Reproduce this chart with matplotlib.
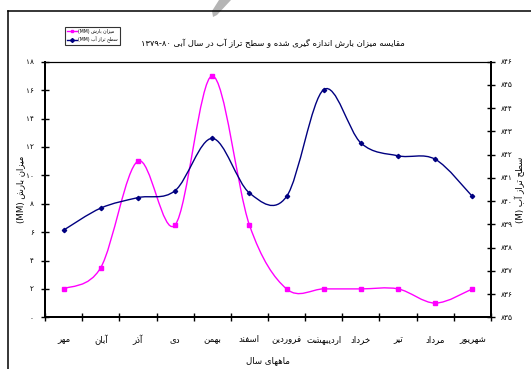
import matplotlib
matplotlib.use("Agg")
import matplotlib.pyplot as plt
import numpy as np
from matplotlib.path import Path
from matplotlib.patches import PathPatch, Polygon
from matplotlib.lines import Line2D

# ---------------- data ----------------
months = ["مهر", "آبان", "آذر", "دی", "بهمن", "اسفند",
          "فروردین", "اردیبهشت", "خرداد", "تیر", "مرداد", "شهریور"]
rainfall = [2.0, 3.5, 11.0, 6.5, 17.0, 6.5, 2.0, 2.0, 2.0, 2.0, 1.0, 2.0]
water_level = [838.75, 839.7, 840.15, 840.45, 842.7, 840.35,
               840.2, 844.8, 842.5, 841.95, 841.8, 840.2]
left_ticks = [0, 2, 4, 6, 8, 10, 12, 14, 16, 18]
right_ticks = [835, 836, 837, 838, 839, 840, 841, 842, 843, 844, 845, 846]
title_text = "مقایسه میزان بارش اندازه گیری شده و سطح تراز آب در سال آبی"
title_years = "۱۳۷۹-۸۰"
xlabel_text = "ماههای سال"
ylabel_left = "میزان بارش"
ylabel_right = "سطح تراز آب"
legend_rain = "میزان بارش"
legend_level = "سطح تراز آب"

# ------------- minimal Persian shaping (visual order) -------------
FORMS = {
    'ا': ('\uFE8D', '\uFE8E', None, None),
    'آ': ('\uFE81', '\uFE82', None, None),
    'ب': ('\uFE8F', '\uFE90', '\uFE91', '\uFE92'),
    'پ': ('\uFB56', '\uFB57', '\uFB58', '\uFB59'),
    'ت': ('\uFE95', '\uFE96', '\uFE97', '\uFE98'),
    'ج': ('\uFE9D', '\uFE9E', '\uFE9F', '\uFEA0'),
    'چ': ('\uFB7A', '\uFB7B', '\uFB7C', '\uFB7D'),
    'ح': ('\uFEA1', '\uFEA2', '\uFEA3', '\uFEA4'),
    'خ': ('\uFEA5', '\uFEA6', '\uFEA7', '\uFEA8'),
    'د': ('\uFEA9', '\uFEAA', None, None),
    'ذ': ('\uFEAB', '\uFEAC', None, None),
    'ر': ('\uFEAD', '\uFEAE', None, None),
    'ز': ('\uFEAF', '\uFEB0', None, None),
    'ژ': ('\uFB8A', '\uFB8B', None, None),
    'س': ('\uFEB1', '\uFEB2', '\uFEB3', '\uFEB4'),
    'ش': ('\uFEB5', '\uFEB6', '\uFEB7', '\uFEB8'),
    'ط': ('\uFEC1', '\uFEC2', '\uFEC3', '\uFEC4'),
    'ع': ('\uFEC9', '\uFECA', '\uFECB', '\uFECC'),
    'ف': ('\uFED1', '\uFED2', '\uFED3', '\uFED4'),
    'ق': ('\uFED5', '\uFED6', '\uFED7', '\uFED8'),
    'ک': ('\uFB8E', '\uFB8F', '\uFB90', '\uFB91'),
    'گ': ('\uFB92', '\uFB93', '\uFB94', '\uFB95'),
    'ل': ('\uFEDD', '\uFEDE', '\uFEDF', '\uFEE0'),
    'م': ('\uFEE1', '\uFEE2', '\uFEE3', '\uFEE4'),
    'ن': ('\uFEE5', '\uFEE6', '\uFEE7', '\uFEE8'),
    'ه': ('\uFEE9', '\uFEEA', '\uFEEB', '\uFEEC'),
    'و': ('\uFEED', '\uFEEE', None, None),
    'ی': ('\uFBFC', '\uFBFD', '\uFBFE', '\uFBFF'),
}


def shape(text):
    out = []
    n = len(text)
    for i, ch in enumerate(text):
        if ch not in FORMS:
            out.append(ch)
            continue
        iso, fin, ini, med = FORMS[ch]
        prev = text[i - 1] if i > 0 else None
        nxt = text[i + 1] if i + 1 < n else None
        join_prev = prev in FORMS and FORMS[prev][2] is not None
        join_next = ini is not None and nxt in FORMS
        if join_prev and join_next:
            out.append(med)
        elif join_prev:
            out.append(fin)
        elif join_next:
            out.append(ini)
        else:
            out.append(iso)
    return "".join(out)[::-1]


def fa_digits(v):
    return str(v).translate(str.maketrans("0123456789", "۰۱۲۳۴۵۶۷۸۹"))


def smooth_path(xs, ys):
    xs = np.asarray(xs, float)
    ys = np.asarray(ys, float)
    px = np.concatenate([[xs[0]], xs, [xs[-1]]])
    py = np.concatenate([[ys[0]], ys, [ys[-1]]])
    verts = [(xs[0], ys[0])]
    codes = [Path.MOVETO]
    for i in range(1, len(xs)):
        p0 = (px[i - 1], py[i - 1])
        p1 = (px[i], py[i])
        p2 = (px[i + 1], py[i + 1])
        p3 = (px[i + 2], py[i + 2])
        c1 = (p1[0] + (p2[0] - p0[0]) / 6, p1[1] + (p2[1] - p0[1]) / 6)
        c2 = (p2[0] - (p3[0] - p1[0]) / 6, p2[1] - (p3[1] - p1[1]) / 6)
        verts += [c1, c2, p2]
        codes += [Path.CURVE4] * 3
    return Path(verts, codes)


plt.rcParams['font.family'] = ['DejaVu Sans']

W, H = 531, 369
fig = plt.figure(figsize=(W / 100, H / 100), dpi=100)
fig.patch.set_facecolor("white")

L, R, B, T = 45, 491, 317.3, 61.7
ax = fig.add_axes([L / W, 1 - B / H, (R - L) / W, (B - T) / H])
ax2 = ax.twinx()

x = np.arange(len(months))
pink = "#FF00FF"
navy = "#000080"

ax.add_patch(PathPatch(smooth_path(x, rainfall), facecolor="none",
                       edgecolor=pink, lw=1.0, transform=ax.transData))
ax.plot(x, rainfall, ls="none", marker="s", ms=2.6, color=pink)
ax2.add_patch(PathPatch(smooth_path(x, water_level), facecolor="none",
                        edgecolor=navy, lw=1.0, transform=ax2.transData))
ax2.plot(x, water_level, ls="none", marker="D", ms=2.2, color=navy)

ax.set_xlim(-0.5, len(months) - 0.5)
ax.set_ylim(0, 18)
ax2.set_ylim(835, 846)

ax.set_xticks(np.arange(-0.5, len(months), 1.0))
ax.set_xticklabels([])
ax.set_xticks(x, minor=True)
ax.set_xticklabels([shape(m) for m in months], minor=True, fontsize=6.2)
ax.tick_params(axis="x", which="major", direction="inout", length=6, width=1.0)
ax.tick_params(axis="x", which="minor", length=0, pad=12.5)

ax.set_yticks(left_ticks)
ax.set_yticklabels([fa_digits(v) for v in left_ticks], fontsize=5.3)
ax.tick_params(axis="y", direction="inout", length=6, width=1.0, pad=5)
ax2.set_yticks(right_ticks)
ax2.set_yticklabels([fa_digits(v) for v in right_ticks], fontsize=5.3)
ax2.tick_params(axis="y", direction="inout", length=6, width=1.0, pad=4)

for a in (ax, ax2):
    for s in ("left", "right", "bottom"):
        a.spines[s].set_linewidth(1.4)
    a.spines["top"].set_linewidth(0.8)

ax.set_xlabel(shape(xlabel_text), fontsize=6.2, labelpad=8)
ax.set_ylabel("(MM) " + shape(ylabel_left), fontsize=6.2,
              va="center", ha="center")
ax.yaxis.set_label_coords((21 - L) / (R - L), 0.5)
ax2.set_ylabel("(M) " + shape(ylabel_right), fontsize=6.2, rotation=90,
               va="center", ha="center")
ax2.yaxis.set_label_coords((520 - L) / (R - L), 0.5)

fig.text(273 / W, 1 - 43 / H, title_years + " " + shape(title_text),
         ha="center", va="center", fontsize=6.0)

handles = [Line2D([], [], color=pink, marker="s", ms=2, lw=1),
           Line2D([], [], color=navy, marker="D", ms=2, lw=1)]
labels = ["(MM) " + shape(legend_rain), "(MM) " + shape(legend_level)]
leg = fig.legend(handles, labels, loc="upper left",
                 bbox_to_anchor=(65 / W, 1 - 27 / H), fontsize=3.3,
                 frameon=True, fancybox=False, edgecolor="black",
                 borderpad=0.4, handlelength=2.2, handletextpad=0.3,
                 labelspacing=0.6, borderaxespad=0)
leg.get_frame().set_linewidth(0.8)

# page frame and watermark piece
fig.add_artist(Line2D([7.5 / W, 7.5 / W], [0, 1 - 11 / H], color="black",
                      lw=1.1, transform=fig.transFigure))
fig.add_artist(Line2D([7.5 / W, 1], [1 - 11 / H, 1 - 11 / H], color="black",
                      lw=1.1, transform=fig.transFigure))
fig.add_artist(Polygon([(219 / W, 1), (231 / W, 1), (217 / W, 1 - 15 / H),
                        (213 / W, 1 - 17 / H), (212 / W, 1 - 11 / H)],
                       closed=True, facecolor="#b5b5b5", edgecolor="none",
                       transform=fig.transFigure, zorder=-1))

fig.savefig("out.png", dpi=100)
